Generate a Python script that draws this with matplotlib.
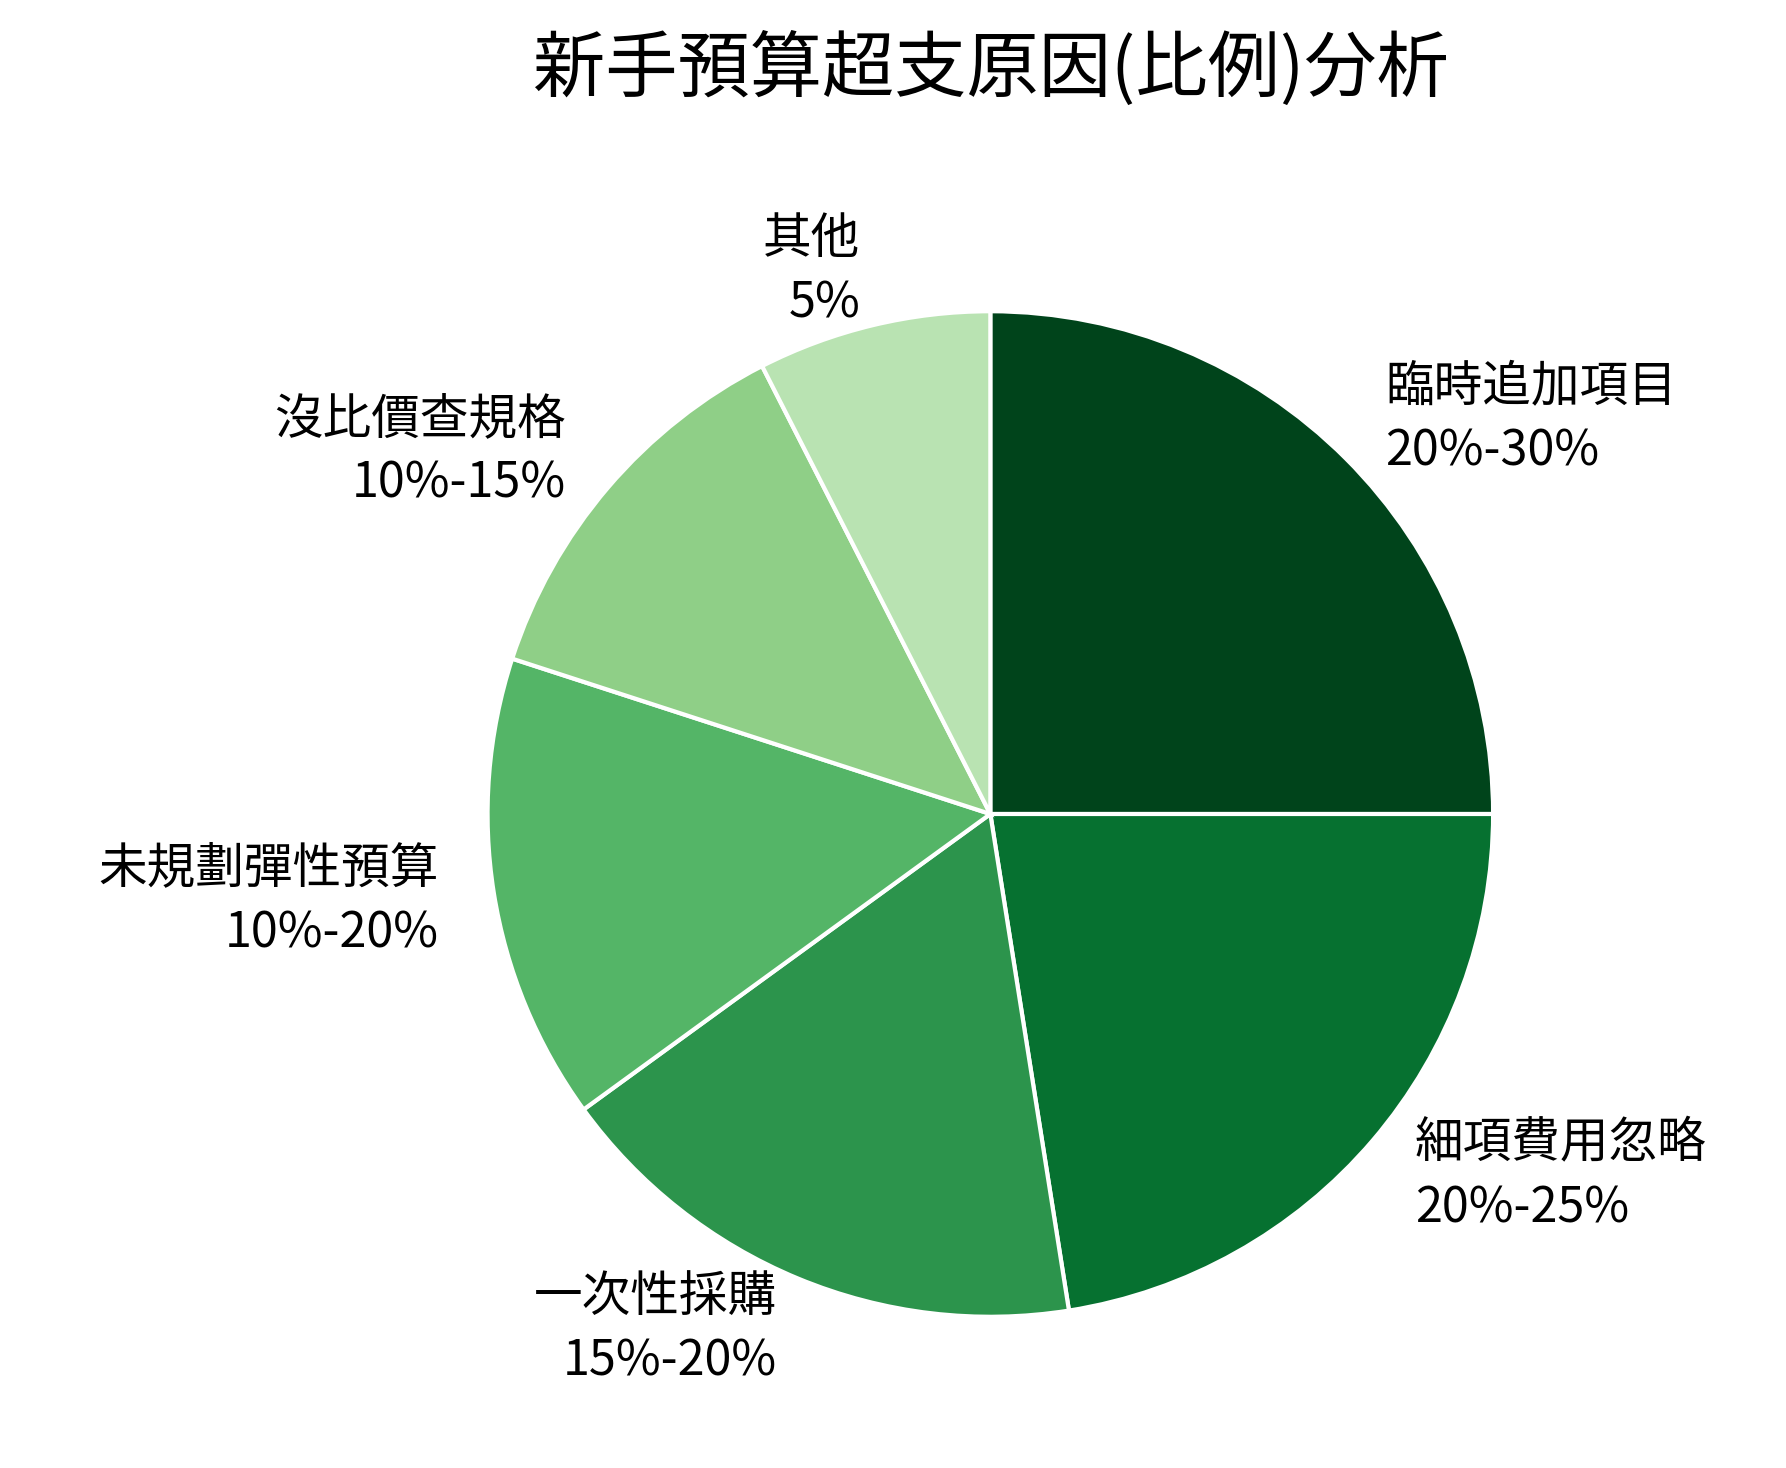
import matplotlib
matplotlib.use("Agg")
import matplotlib.pyplot as plt
from matplotlib import font_manager as fm

categories = ["臨時追加項目", "細項費用忽略", "一次性採購", "未規劃彈性預算", "沒比價查規格", "其他"]
ranges = ["20%-30%", "20%-25%", "15%-20%", "10%-20%", "10%-15%", "5%"]
values = [25, 22.5, 17.5, 15, 12.5, 7.5]
colors = ["#00441b", "#067130", "#2c944c", "#54b567", "#8fcf87", "#b9e3b2"]

fam = "DejaVu Sans"
files = [f for f in fm.findSystemFonts() if "NotoSansCJK" in f.replace(" ", "") or "NotoSansTC" in f]
for f in files:
    try:
        fm.fontManager.addfont(f)
    except Exception:
        pass
names = {fm.FontProperties(fname=f).get_name() for f in files}
for cand in ["Noto Sans CJK TC", "Noto Sans CJK JP", "Noto Sans CJK SC", "Noto Sans TC"]:
    if cand in names or cand in {f.name for f in fm.fontManager.ttflist}:
        fam = cand
        break
plt.rcParams["font.family"] = [fam, "DejaVu Sans"]

fig = plt.figure(figsize=(17.86, 14.68), dpi=100)
ax = fig.add_axes([0.273, 0.103, 0.563, 0.685])
labels = [f"{c}\n{r}" for c, r in zip(categories, ranges)]
wedges, texts = ax.pie(values, labels=labels, colors=colors, startangle=90, counterclock=False,
                       labeldistance=1.11, wedgeprops=dict(edgecolor="white", linewidth=3),
                       textprops=dict(fontsize=35, linespacing=1.4))
ax.set_xlim(-1, 1); ax.set_ylim(-1, 1)
ax.set_aspect("equal")
fig.text(0.555, 0.953, "新手預算超支原因(比例)分析", ha="center", va="center", fontsize=52)
fig.savefig("out.png", dpi=100)
